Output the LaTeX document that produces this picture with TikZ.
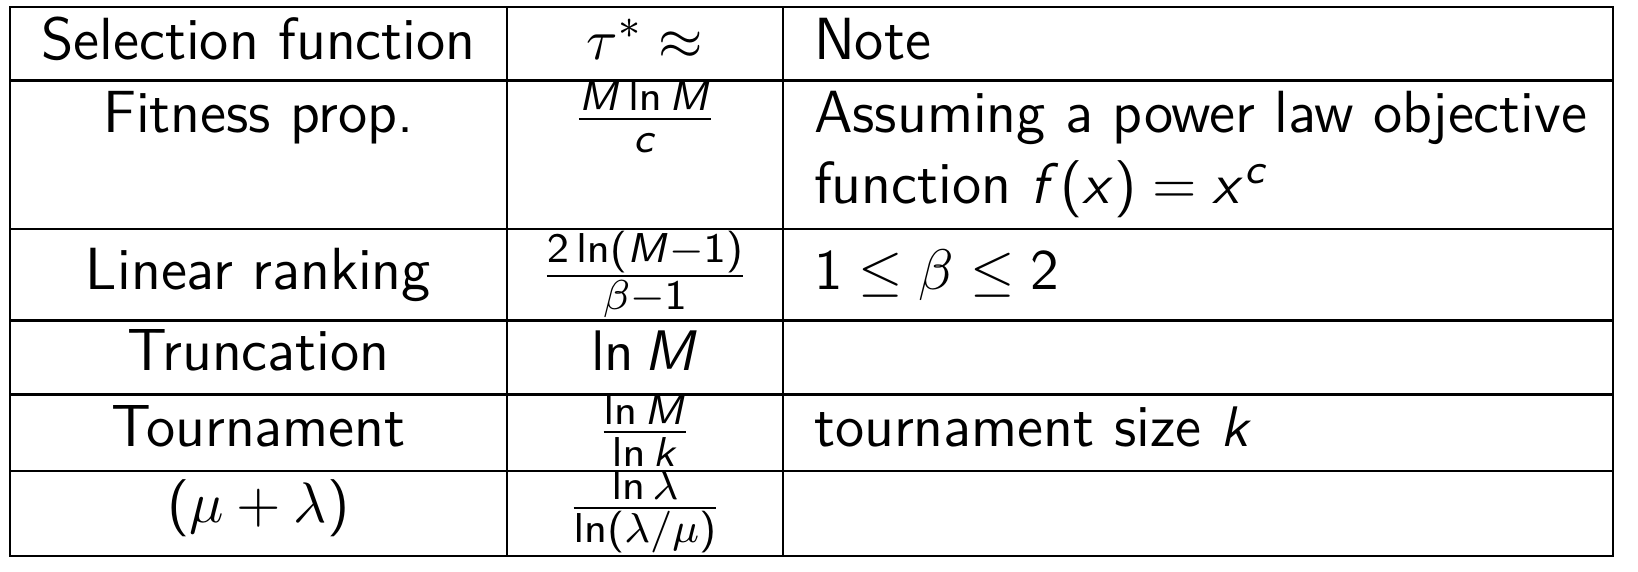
\documentclass[tikz,border=0pt]{standalone}
\DeclareSymbolFont{sfletters}{OT1}{cmss}{m}{sl}
\SetSymbolFont{operators}{normal}{OT1}{cmss}{m}{n}
\DeclareMathSymbol{M}{\mathalpha}{sfletters}{`M}
\DeclareMathSymbol{c}{\mathalpha}{sfletters}{`c}
\DeclareMathSymbol{f}{\mathalpha}{sfletters}{`f}
\DeclareMathSymbol{x}{\mathalpha}{sfletters}{`x}
\DeclareMathSymbol{k}{\mathalpha}{sfletters}{`k}
\begin{document}
\begin{tikzpicture}[x=0.19157pt, y=-0.19157pt,
  cell/.style={inner sep=0pt, anchor=base, font=\fontsize{11.4}{14}\selectfont\sffamily},
  notecell/.style={cell, anchor=base west},
  rule/.style={line width=0.4pt}]
\useasboundingbox (0,0) rectangle (1638,572);
% grid
\coordinate (tl) at (10,7);
\coordinate (br) at (1613,556);
\draw[rule] (tl) rectangle (br);
\foreach \y in {80.5,229,320.5,394.5,471}
  \draw[rule] (10,\y) -- (1613,\y);
\foreach \x in {507,783}
  \draw[rule] (\x,7) -- (\x,556);
% row 1
\node[cell] (h1) at (258.5,59.3) {Selection function};
\node[cell] (h2) at (645,59.3) {$\tau^*\approx$};
\node[notecell] (h3) at (813,59.3) {Note};
% row 2
\node[cell] (a1) at (258.5,133) {Fitness prop.};
\node[cell] (a2) at (645,133) {$\frac{M\ln M}{c}$};
\node[notecell] (a3) at (813,133) {Assuming a power law objective};
\node[notecell] (a4) at (813,204) {function $f(x)=x^c$};
% row 3
\node[cell] (b1) at (258.5,290) {Linear ranking};
\node[cell] (b2) at (645,290) {$\frac{2\ln(M-1)}{\beta-1}$};
\node[notecell] (b3) at (813,290) {$1\le\beta\le2$};
% row 4
\node[cell] (c1) at (258.5,371) {Truncation};
\node[cell] (c2) at (645,371) {$\ln M$};
% row 5
\node[cell] (d1) at (258.5,446.7) {Tournament};
\node[cell] (d2) at (645,446.7) {$\frac{\ln M}{\ln k}$};
\node[notecell] (d3) at (813,446.7) {tournament size $k$};
% row 6
\node[cell] (e1) at (258.5,522.5) {$(\mu+\lambda)$};
\node[cell] (e2) at (645,522.5) {$\frac{\ln\lambda}{\ln(\lambda/\mu)}$};
\end{tikzpicture}
\end{document}
